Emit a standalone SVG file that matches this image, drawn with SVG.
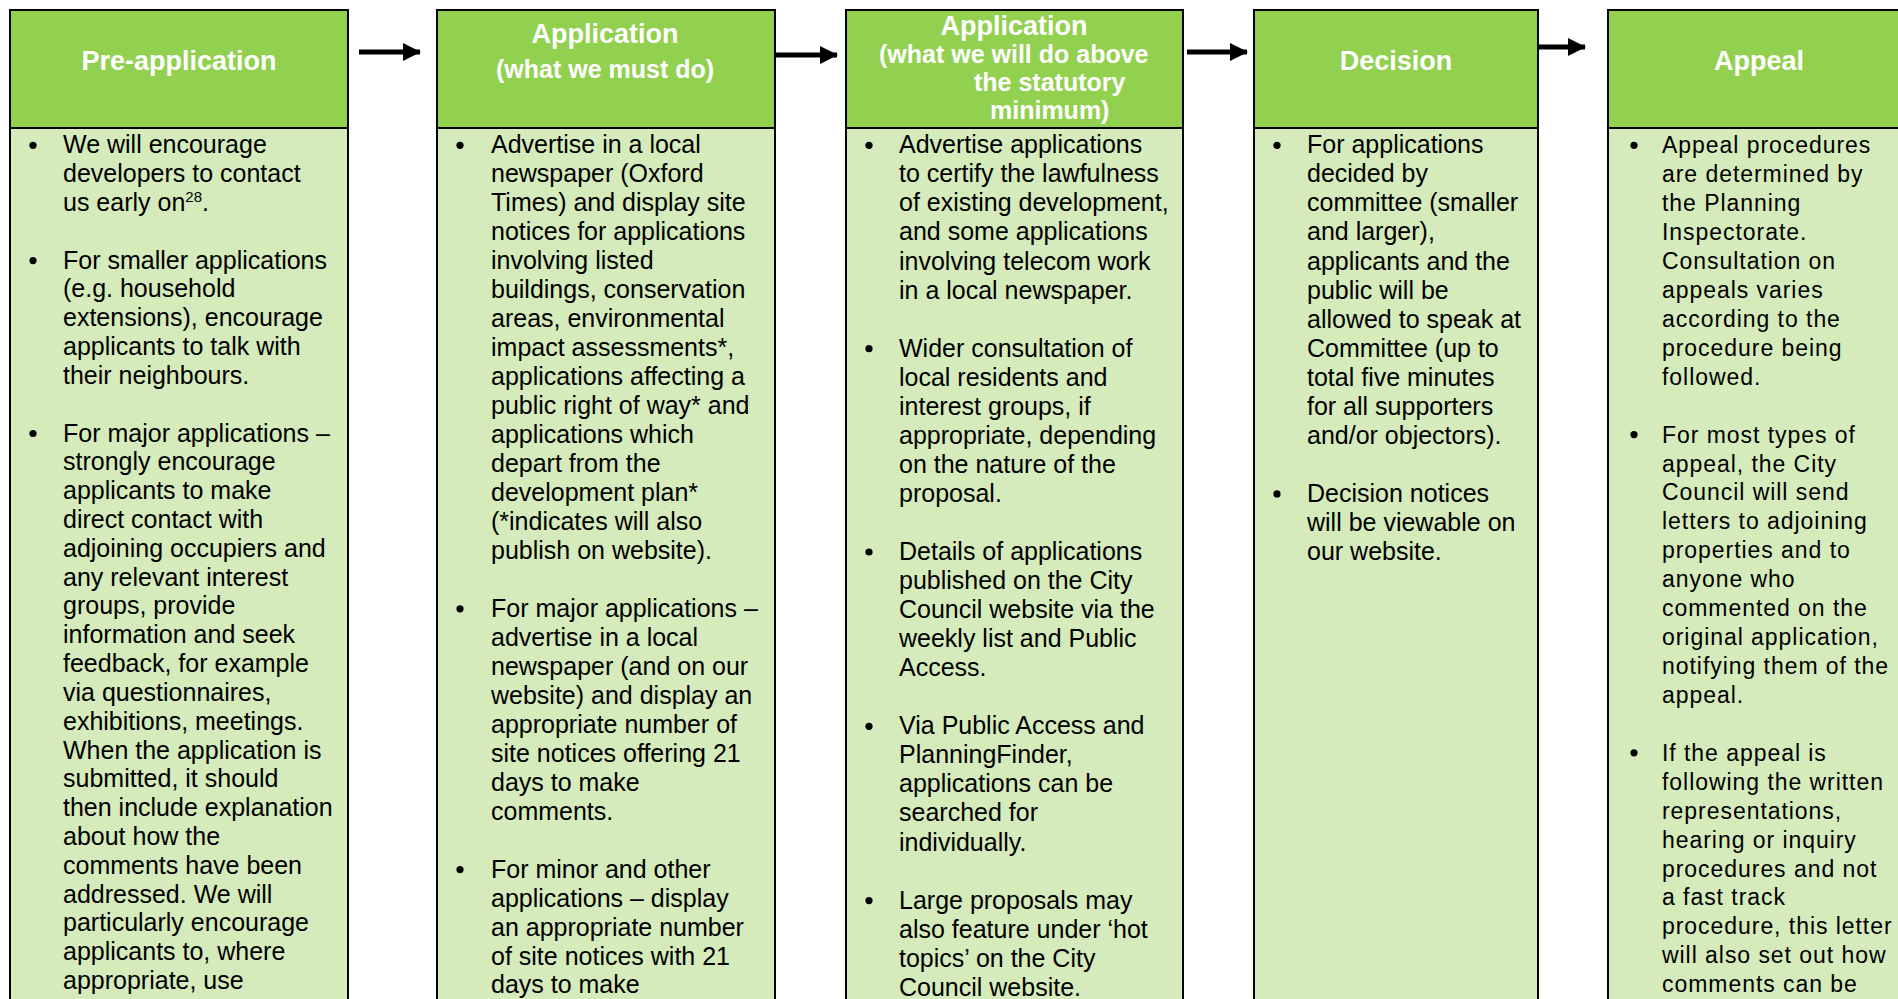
<svg xmlns="http://www.w3.org/2000/svg" width="1898" height="999" viewBox="0 0 1898 999">
<style>
.hd{fill:#92D050;stroke:#000;stroke-width:2}
.bd{fill:#D5EBBB;stroke:#000;stroke-width:2}
.ht{font-family:"Liberation Sans",Arial,sans-serif;font-weight:bold;fill:#fff}
.t1{font-size:27px}
.t2{font-size:25px}
.bt{font-family:"Liberation Sans",Arial,sans-serif;font-size:25px;fill:#000}
.ap{font-size:23px;letter-spacing:0.95px}
.dot{fill:#000}
.arr{stroke:#000;stroke-width:5;fill:none}
</style>
<defs>
<marker id="ah" markerUnits="userSpaceOnUse" markerWidth="18" markerHeight="18" refX="17" refY="9" orient="auto">
<path d="M0,0 L18,9 L0,18 Z" fill="#000"/>
</marker>
</defs>
<rect width="1898" height="999" fill="#fff"/>

<g id="connectors">
<line class="arr" x1="359" y1="52" x2="420" y2="52" marker-end="url(#ah)"/>
<line class="arr" x1="776" y1="55" x2="837" y2="55" marker-end="url(#ah)"/>
<line class="arr" x1="1187" y1="52" x2="1247" y2="52" marker-end="url(#ah)"/>
<line class="arr" x1="1538" y1="47" x2="1585" y2="47" marker-end="url(#ah)"/>
</g>

<g id="pre-application">
<rect class="bd" x="10" y="128" width="338" height="890"/>
<rect class="hd" x="10" y="10" width="338" height="118"/>
<text class="ht t1" x="179" y="70" text-anchor="middle">Pre-application</text>
<circle class="dot" cx="33" cy="145.3" r="3.6"/>
<circle class="dot" cx="33" cy="260.6" r="3.6"/>
<circle class="dot" cx="33" cy="433.5" r="3.6"/>
<text class="bt" y="153.3"><tspan x="63">We will encourage</tspan><tspan x="63" dy="28.82">developers to contact</tspan><tspan x="63" dy="28.82">us early on<tspan font-size="15" dy="-9">28</tspan><tspan dy="9">.</tspan></tspan></text>
<text class="bt" y="268.6"><tspan x="63">For smaller applications</tspan><tspan x="63" dy="28.82">(e.g. household</tspan><tspan x="63" dy="28.82">extensions), encourage</tspan><tspan x="63" dy="28.82">applicants to talk with</tspan><tspan x="63" dy="28.82">their neighbours.</tspan></text>
<text class="bt" y="441.5"><tspan x="63">For major applications –</tspan><tspan x="63" dy="28.82">strongly encourage</tspan><tspan x="63" dy="28.82">applicants to make</tspan><tspan x="63" dy="28.82">direct contact with</tspan><tspan x="63" dy="28.82">adjoining occupiers and</tspan><tspan x="63" dy="28.82">any relevant interest</tspan><tspan x="63" dy="28.82">groups, provide</tspan><tspan x="63" dy="28.82">information and seek</tspan><tspan x="63" dy="28.82">feedback, for example</tspan><tspan x="63" dy="28.82">via questionnaires,</tspan><tspan x="63" dy="28.82">exhibitions, meetings.</tspan><tspan x="63" dy="28.82">When the application is</tspan><tspan x="63" dy="28.82">submitted, it should</tspan><tspan x="63" dy="28.82">then include explanation</tspan><tspan x="63" dy="28.82">about how the</tspan><tspan x="63" dy="28.82">comments have been</tspan><tspan x="63" dy="28.82">addressed. We will</tspan><tspan x="63" dy="28.82">particularly encourage</tspan><tspan x="63" dy="28.82">applicants to, where</tspan><tspan x="63" dy="28.82">appropriate, use</tspan></text>
</g>

<g id="application-must">
<rect class="bd" x="437" y="128" width="338" height="890"/>
<rect class="hd" x="437" y="10" width="338" height="118"/>
<text class="ht t1" x="605" y="43" text-anchor="middle">Application</text>
<text class="ht t2" x="605" y="78" text-anchor="middle">(what we must do)</text>
<circle class="dot" cx="460" cy="145.3" r="3.6"/>
<circle class="dot" cx="460" cy="608.8" r="3.6"/>
<circle class="dot" cx="460" cy="869.6" r="3.6"/>
<text class="bt" y="153.3"><tspan x="491">Advertise in a local</tspan><tspan x="491" dy="28.97">newspaper (Oxford</tspan><tspan x="491" dy="28.97">Times) and display site</tspan><tspan x="491" dy="28.97">notices for applications</tspan><tspan x="491" dy="28.97">involving listed</tspan><tspan x="491" dy="28.97">buildings, conservation</tspan><tspan x="491" dy="28.97">areas, environmental</tspan><tspan x="491" dy="28.97">impact assessments*,</tspan><tspan x="491" dy="28.97">applications affecting a</tspan><tspan x="491" dy="28.97">public right of way* and</tspan><tspan x="491" dy="28.97">applications which</tspan><tspan x="491" dy="28.97">depart from the</tspan><tspan x="491" dy="28.97">development plan*</tspan><tspan x="491" dy="28.97">(*indicates will also</tspan><tspan x="491" dy="28.97">publish on website).</tspan></text>
<text class="bt" y="616.8"><tspan x="491">For major applications –</tspan><tspan x="491" dy="28.97">advertise in a local</tspan><tspan x="491" dy="28.97">newspaper (and on our</tspan><tspan x="491" dy="28.97">website) and display an</tspan><tspan x="491" dy="28.97">appropriate number of</tspan><tspan x="491" dy="28.97">site notices offering 21</tspan><tspan x="491" dy="28.97">days to make</tspan><tspan x="491" dy="28.97">comments.</tspan></text>
<text class="bt" y="877.6"><tspan x="491">For minor and other</tspan><tspan x="491" dy="28.97">applications – display</tspan><tspan x="491" dy="28.97">an appropriate number</tspan><tspan x="491" dy="28.97">of site notices with 21</tspan><tspan x="491" dy="28.97">days to make</tspan></text>
</g>

<g id="application-above">
<rect class="bd" x="846" y="128" width="337" height="890"/>
<rect class="hd" x="846" y="10" width="337" height="118"/>
<text class="ht t1" x="1014" y="35" text-anchor="middle">Application</text>
<text class="ht t2" x="879" y="63">(what we will do above</text>
<text class="ht t2" x="974" y="91">the statutory</text>
<text class="ht t2" x="990" y="119">minimum)</text>
<circle class="dot" cx="869" cy="145.3" r="3.6"/>
<circle class="dot" cx="869" cy="348.7" r="3.6"/>
<circle class="dot" cx="869" cy="552.0" r="3.6"/>
<circle class="dot" cx="869" cy="726.3" r="3.6"/>
<circle class="dot" cx="869" cy="900.6" r="3.6"/>
<text class="bt" y="153.3"><tspan x="899">Advertise applications</tspan><tspan x="899" dy="29.05">to certify the lawfulness</tspan><tspan x="899" dy="29.05">of existing development,</tspan><tspan x="899" dy="29.05">and some applications</tspan><tspan x="899" dy="29.05">involving telecom work</tspan><tspan x="899" dy="29.05">in a local newspaper.</tspan></text>
<text class="bt" y="356.7"><tspan x="899">Wider consultation of</tspan><tspan x="899" dy="29.05">local residents and</tspan><tspan x="899" dy="29.05">interest groups, if</tspan><tspan x="899" dy="29.05">appropriate, depending</tspan><tspan x="899" dy="29.05">on the nature of the</tspan><tspan x="899" dy="29.05">proposal.</tspan></text>
<text class="bt" y="560.0"><tspan x="899">Details of applications</tspan><tspan x="899" dy="29.05">published on the City</tspan><tspan x="899" dy="29.05">Council website via the</tspan><tspan x="899" dy="29.05">weekly list and Public</tspan><tspan x="899" dy="29.05">Access.</tspan></text>
<text class="bt" y="734.3"><tspan x="899">Via Public Access and</tspan><tspan x="899" dy="29.05">PlanningFinder,</tspan><tspan x="899" dy="29.05">applications can be</tspan><tspan x="899" dy="29.05">searched for</tspan><tspan x="899" dy="29.05">individually.</tspan></text>
<text class="bt" y="908.6"><tspan x="899">Large proposals may</tspan><tspan x="899" dy="29.05">also feature under ‘hot</tspan><tspan x="899" dy="29.05">topics’ on the City</tspan><tspan x="899" dy="29.05">Council website.</tspan></text>
</g>

<g id="decision">
<rect class="bd" x="1254" y="128" width="284" height="890"/>
<rect class="hd" x="1254" y="10" width="284" height="118"/>
<text class="ht t1" x="1396" y="70" text-anchor="middle">Decision</text>
<circle class="dot" cx="1277" cy="145.3" r="3.6"/>
<circle class="dot" cx="1277" cy="493.9" r="3.6"/>
<text class="bt" y="153.3"><tspan x="1307">For applications</tspan><tspan x="1307" dy="29.05">decided by</tspan><tspan x="1307" dy="29.05">committee (smaller</tspan><tspan x="1307" dy="29.05">and larger),</tspan><tspan x="1307" dy="29.05">applicants and the</tspan><tspan x="1307" dy="29.05">public will be</tspan><tspan x="1307" dy="29.05">allowed to speak at</tspan><tspan x="1307" dy="29.05">Committee (up to</tspan><tspan x="1307" dy="29.05">total five minutes</tspan><tspan x="1307" dy="29.05">for all supporters</tspan><tspan x="1307" dy="29.05">and/or objectors).</tspan></text>
<text class="bt" y="501.9"><tspan x="1307">Decision notices</tspan><tspan x="1307" dy="29.05">will be viewable on</tspan><tspan x="1307" dy="29.05">our website.</tspan></text>
</g>

<g id="appeal">
<rect class="bd" x="1608" y="128" width="310" height="890"/>
<rect class="hd" x="1608" y="10" width="310" height="118"/>
<text class="ht t1" x="1759" y="70" text-anchor="middle">Appeal</text>
<circle class="dot" cx="1634" cy="145.3" r="3.6"/>
<circle class="dot" cx="1634" cy="434.6" r="3.6"/>
<circle class="dot" cx="1634" cy="752.8" r="3.6"/>
<text class="bt ap" y="153.3"><tspan x="1662">Appeal procedures</tspan><tspan x="1662" dy="28.93">are determined by</tspan><tspan x="1662" dy="28.93">the Planning</tspan><tspan x="1662" dy="28.93">Inspectorate.</tspan><tspan x="1662" dy="28.93">Consultation on</tspan><tspan x="1662" dy="28.93">appeals varies</tspan><tspan x="1662" dy="28.93">according to the</tspan><tspan x="1662" dy="28.93">procedure being</tspan><tspan x="1662" dy="28.93">followed.</tspan></text>
<text class="bt ap" y="442.6"><tspan x="1662">For most types of</tspan><tspan x="1662" dy="28.93">appeal, the City</tspan><tspan x="1662" dy="28.93">Council will send</tspan><tspan x="1662" dy="28.93">letters to adjoining</tspan><tspan x="1662" dy="28.93">properties and to</tspan><tspan x="1662" dy="28.93">anyone who</tspan><tspan x="1662" dy="28.93">commented on the</tspan><tspan x="1662" dy="28.93">original application,</tspan><tspan x="1662" dy="28.93">notifying them of the</tspan><tspan x="1662" dy="28.93">appeal.</tspan></text>
<text class="bt ap" y="760.8"><tspan x="1662">If the appeal is</tspan><tspan x="1662" dy="28.93">following the written</tspan><tspan x="1662" dy="28.93">representations,</tspan><tspan x="1662" dy="28.93">hearing or inquiry</tspan><tspan x="1662" dy="28.93">procedures and not</tspan><tspan x="1662" dy="28.93">a fast track</tspan><tspan x="1662" dy="28.93">procedure, this letter</tspan><tspan x="1662" dy="28.93">will also set out how</tspan><tspan x="1662" dy="28.93">comments can be</tspan></text>
</g>
</svg>
